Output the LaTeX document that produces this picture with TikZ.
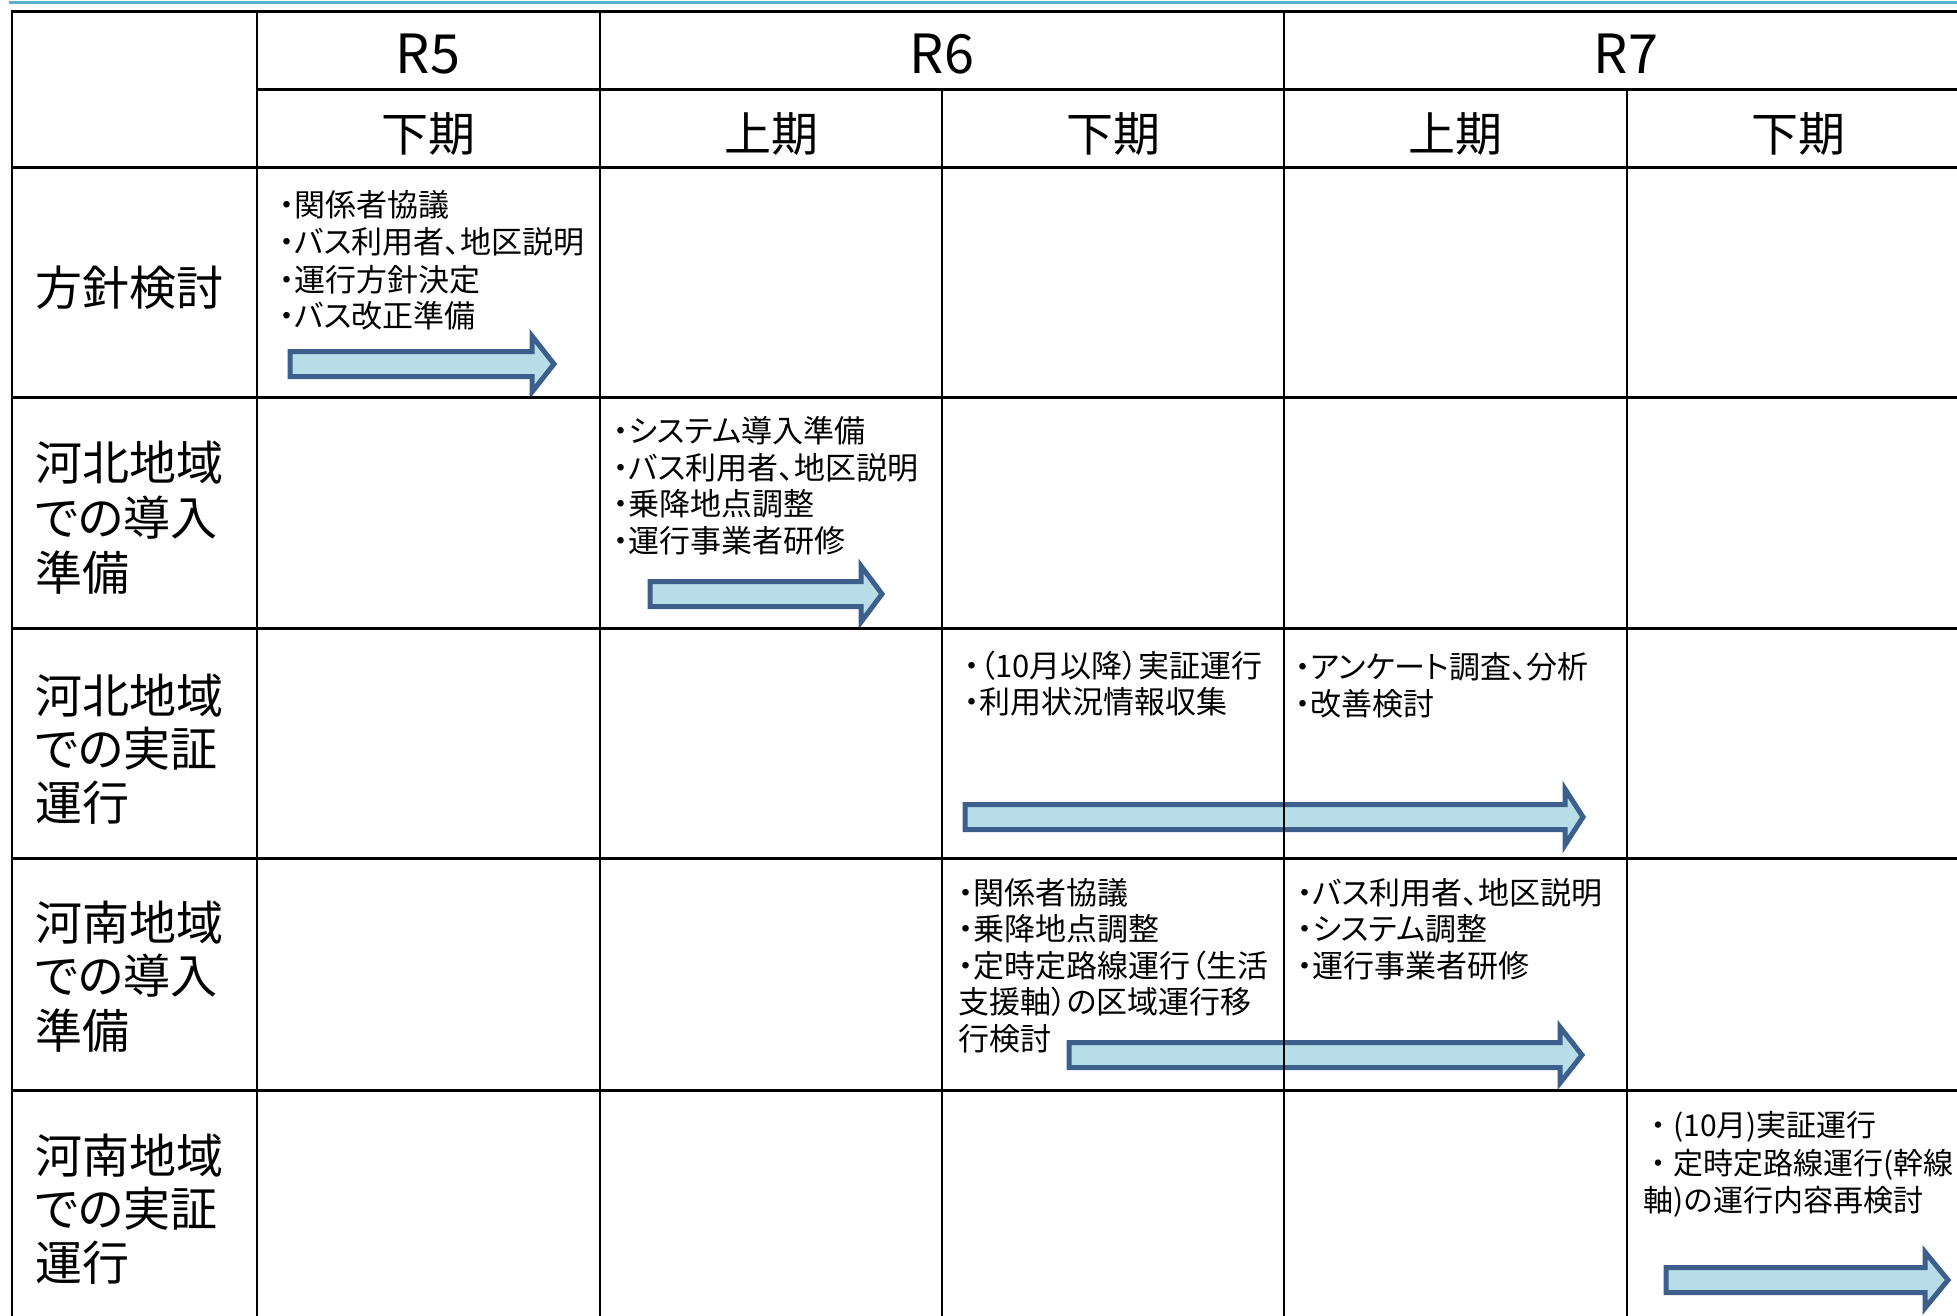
\documentclass[tikz,border=0pt]{standalone}
\usepackage{fontspec}
\setmainfont{Noto Sans CJK JP}[RawFeature={+palt}]
\newfontfamily\jpfull{Noto Sans CJK JP}
\definecolor{arrowfill}{HTML}{B7DDE8}
\definecolor{arrowline}{HTML}{3C5F8B}
\definecolor{topline}{HTML}{5AB0C8}
\tikzset{
  hdr/.style={font=\fontsize{54}{60}\selectfont, anchor=base, inner sep=0pt},
  subhdr/.style={font=\fontsize{47}{56}\selectfont, anchor=base, inner sep=0pt},
  rowhd/.style={font=\fontsize{47}{56}\selectfont, anchor=base west, inner sep=0pt},
  celltxt/.style={font=\fontsize{31}{37}\selectfont, anchor=base west, inner sep=0pt},
  celltxtw/.style={font=\jpfull\fontsize{30}{37}\selectfont, anchor=base west, inner sep=0pt},
  gridh/.style={line width=3pt, black},
  gridv/.style={line width=2.5pt, black},
  blockarrow/.style={draw=arrowline, fill=arrowfill, line width=5pt, line join=miter},
}
\newcommand\barrow[4]{%
  \draw[blockarrow] (#1,#4-12.5) -- (#2,#4-12.5) -- (#2,#4-28) -- (#3,#4)
     -- (#2,#4+28) -- (#2,#4+12.5) -- (#1,#4+12.5) -- cycle;}
\begin{document}
\begin{tikzpicture}[x=1pt,y=-1pt]
\useasboundingbox[fill=white] (0,0) rectangle (1957,1316);
% top accent line
\draw[topline, line width=3pt] (9,2.5) -- (1957,2.5);

% arrows (under the grid)
\barrow{290}{532}{554}{364}
\barrow{650}{861}{882}{594}
\barrow{965}{1565}{1583}{817}
\barrow{1069}{1560}{1582}{1055}
\barrow{1666}{1925}{1948}{1280}

% grid
\draw[gridh] (12,12) -- (1957,12);
\draw[gridh] (257,90) -- (1957,90);
\draw[gridh] (12,168) -- (1957,168);
\draw[gridh] (12,397) -- (1957,397);
\draw[gridh] (12,628) -- (1957,628);
\draw[gridh] (12,858) -- (1957,858);
\draw[gridh] (12,1090) -- (1957,1090);
\draw[gridv] (12,10.5) -- (12,1316);
\draw[gridv] (257,10.5) -- (257,1316);
\draw[gridv] (600,10.5) -- (600,1316);
\draw[gridv] (942,90) -- (942,1316);
\draw[gridv] (1284,10.5) -- (1284,1316);
\draw[gridv] (1627,90) -- (1627,1316);

% headers
\node[hdr] (r5) at (428,74) {R5};
\node[hdr] (r6) at (942,74) {R6};
\node[hdr] (r7) at (1626,74) {R7};
\node[subhdr] (s1) at (428,152) {下期};
\node[subhdr] (s2) at (771,152) {上期};
\node[subhdr] (s3) at (1113,152) {下期};
\node[subhdr] (s4) at (1455,152) {上期};
\node[subhdr] (s5) at (1798,152) {下期};

% row headers
\node[rowhd] (h1) at (35,305) {方針検討};
\node[rowhd] (h2a) at (35,480) {河北地域};
\node[rowhd] (h2b) at (35,535) {での導入};
\node[rowhd] (h2c) at (35,590) {準備};
\node[rowhd] (h3a) at (35,713) {河北地域};
\node[rowhd] (h3b) at (35,766) {での実証};
\node[rowhd] (h3c) at (35,820) {運行};
\node[rowhd] (h4a) at (35,940) {河南地域};
\node[rowhd] (h4b) at (35,993) {での導入};
\node[rowhd] (h4c) at (35,1048) {準備};
\node[rowhd] (h5a) at (35,1173) {河南地域};
\node[rowhd] (h5b) at (35,1226) {での実証};
\node[rowhd] (h5c) at (35,1280) {運行};

% row 1
\node[celltxt] (t1a) at (279,217) {・関係者協議};
\node[celltxt] (t1b) at (279,254) {・バス利用者、地区説明};
\node[celltxt] (t1c) at (279,291) {・運行方針決定};
\node[celltxt] (t1d) at (279,327) {・バス改正準備};
% row 2
\node[celltxt] (t2a) at (613,442) {・システム導入準備};
\node[celltxt] (t2b) at (613,479) {・バス利用者、地区説明};
\node[celltxt] (t2c) at (613,515) {・乗降地点調整};
\node[celltxt] (t2d) at (613,552) {・運行事業者研修};
% row 3
\node[celltxt] (t3a) at (964,677) {・（10月以降）実証運行};
\node[celltxt] (t3b) at (964,713) {・利用状況情報収集};
\node[celltxt] (t3c) at (1295,678) {・アンケート調査、分析};
\node[celltxt] (t3d) at (1295,715) {・改善検討};
% row 4
\node[celltxt] (t4a) at (958,904) {・関係者協議};
\node[celltxt] (t4b) at (958,940) {・乗降地点調整};
\node[celltxt] (t4c) at (958,977) {・定時定路線運行（生活};
\node[celltxt] (t4d) at (958,1013) {支援軸）の区域運行移};
\node[celltxt] (t4e) at (958,1050) {行検討};
\node[celltxt] (t4f) at (1297,904) {・バス利用者、地区説明};
\node[celltxt] (t4g) at (1297,940) {・システム調整};
\node[celltxt] (t4h) at (1297,977) {・運行事業者研修};
% row 5
\node[celltxtw] (t5a) at (1643,1136) {・(10月)実証運行};
\node[celltxtw] (t5b) at (1643,1174) {・定時定路線運行(幹線};
\node[celltxtw] (t5c) at (1643,1211) {軸)の運行内容再検討};
\end{tikzpicture}
\end{document}
